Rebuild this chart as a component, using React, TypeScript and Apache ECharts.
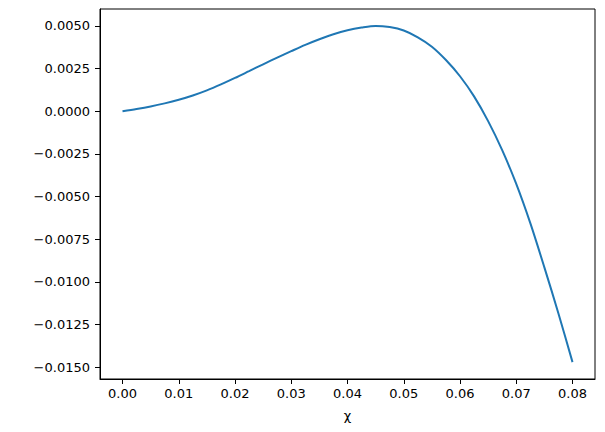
import React, { useEffect, useRef } from "react";
import * as echarts from "echarts";

const chiValues = [
  0, 0.0025, 0.005, 0.0075, 0.01, 0.0125, 0.015, 0.0175, 0.02, 0.0225, 0.025, 0.0275, 0.03, 0.0325,
  0.035, 0.0375, 0.04, 0.0425, 0.045, 0.0475, 0.05, 0.0525, 0.055, 0.0575, 0.06, 0.0625, 0.065,
  0.0675, 0.07, 0.0725, 0.075, 0.0775, 0.08,
];
const yValues = [
  0, 0.00013, 0.00028, 0.00046, 0.00067, 0.00092, 0.00122, 0.00157, 0.00195, 0.00235, 0.00275,
  0.00314, 0.00352, 0.00389, 0.00422, 0.00451, 0.00474, 0.0049, 0.005, 0.00493, 0.00473, 0.00433,
  0.00378, 0.003, 0.00205, 0.00087, -0.00058, -0.00228, -0.00426, -0.00656, -0.00915, -0.01185,
  -0.0147,
];
const xTickValues = [0, 0.01, 0.02, 0.03, 0.04, 0.05, 0.06, 0.07, 0.08];
const yTickValues = [-0.015, -0.0125, -0.01, -0.0075, -0.005, -0.0025, 0, 0.0025, 0.005];

const fmt = (v: number, d: number) => {
  const s = Math.abs(v).toFixed(d);
  return v < -1e-12 ? "\u2212" + s : s;
};

export default function App() {
  const ref = useRef<HTMLDivElement>(null);
  useEffect(() => {
    if (!ref.current) return;
    const chart = echarts.init(ref.current, null, { renderer: "svg" });
    const font = "DejaVu Sans";
    chart.setOption({
      animation: false,
      backgroundColor: "#ffffff",
      grid: {
        left: 100,
        right: 10,
        top: 9,
        bottom: 53,
        show: true,
        borderColor: "#000000",
        borderWidth: 1,
        backgroundColor: "transparent",
      },
      xAxis: {
        type: "value",
        min: -0.004,
        max: 0.084,
        name: "\u03c7",
        nameLocation: "middle",
        nameGap: 30,
        nameTextStyle: { fontFamily: font, fontSize: 13, color: "#000" },
        axisLine: { show: true, onZero: false, lineStyle: { color: "#000", width: 1 } },
        axisTick: { show: true, length: 5, lineStyle: { color: "#000" }, customValues: xTickValues },
        axisLabel: {
          fontFamily: font,
          fontSize: 13,
          color: "#000",
          margin: 8,
          customValues: xTickValues,
          formatter: (v: number) => fmt(v, 2),
        },
        splitLine: { show: false },
      },
      yAxis: {
        type: "value",
        min: -0.01569,
        max: 0.00599,
        axisLine: { show: true, onZero: false, lineStyle: { color: "#000", width: 1 } },
        axisTick: { show: true, length: 5, lineStyle: { color: "#000" }, customValues: yTickValues },
        axisLabel: {
          fontFamily: font,
          fontSize: 13,
          color: "#000",
          margin: 10,
          customValues: yTickValues,
          formatter: (v: number) => fmt(v, 4),
        },
        splitLine: { show: false },
      },
      series: [
        {
          type: "line",
          data: chiValues.map((x, i) => [x, yValues[i]]),
          showSymbol: false,
          smooth: 0.3,
          lineStyle: { color: "#1f77b4", width: 2 },
        },
      ],
    });
    return () => chart.dispose();
  }, []);
  return (
    <div
      ref={ref}
      style={{ position: "fixed", left: 0, top: 0, width: 605, height: 432 }}
    />
  );
}
